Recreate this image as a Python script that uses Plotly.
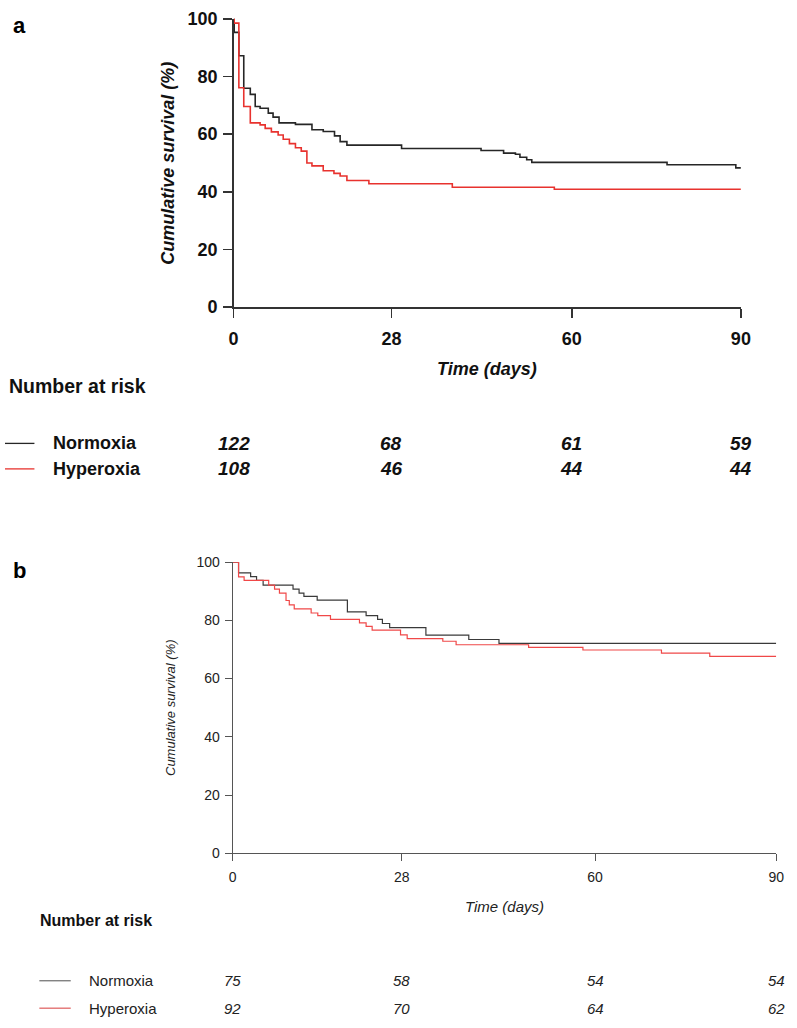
import plotly.graph_objects as go

W, H = 797, 1028

# ---------------- Data ----------------
tick_days = [0, 28, 60, 90]
y_ticks = [0, 20, 40, 60, 80, 100]

# Panel a
a_norm_t = [0, 0.1, 0.93, 1.8, 2.96, 3.83, 4.7, 6.15, 7.0, 8.06, 10.97, 13.9, 15.9, 17.9,
            18.9, 20.1, 29.8, 43.9, 47.9, 50.0, 50.8, 52.0, 52.9, 76.9, 89.1, 90]
a_norm_s = [100, 95.3, 87.2, 75.9, 73.8, 69.6, 69.0, 67.3, 65.9, 63.9, 63.4, 61.5, 60.9, 59.4,
            57.4, 56.2, 55.0, 54.3, 53.4, 53.0, 52.0, 51.1, 50.2, 49.4, 48.3, 48.3]
a_hyp_t = [0, 0.1, 0.93, 1.8, 2.96, 4.7, 5.6, 6.7, 7.9, 8.8, 9.9, 10.97, 12.0, 13.0, 13.9,
           15.9, 17.8, 18.9, 20.1, 24.0, 38.8, 56.9, 90]
a_hyp_s = [100, 98.5, 76.1, 69.6, 63.9, 63.2, 62.0, 60.8, 59.7, 58.2, 56.7, 55.3, 54.1, 50.0, 49.0,
           47.3, 46.4, 45.5, 43.9, 42.8, 41.6, 40.9, 40.9]
a_risk_norm = [122, 68, 61, 59]
a_risk_hyp = [108, 46, 44, 44]

# Panel b
b_norm_t = [0, 0.98, 2.98, 3.96, 5.05, 10.0, 11.0, 11.8, 14.0, 19.0, 22.1, 24.0, 24.8, 26.0,
            32.0, 39.1, 44.1, 90]
b_norm_s = [100, 96.3, 95.0, 93.7, 92.1, 90.7, 89.3, 88.2, 86.9, 82.9, 81.6, 80.3, 78.9, 77.5,
            74.9, 73.4, 72.1, 72.1]
b_hyp_t = [0, 0.98, 1.9, 5.97, 6.94, 7.75, 8.84, 9.38, 10.2, 13.0, 14.1, 16.2, 21.0, 22.1, 23.1,
           27.8, 28.9, 34.8, 37.0, 49.0, 58.0, 71.0, 79.0, 90]
b_hyp_s = [100, 94.9, 93.7, 92.1, 90.7, 89.3, 86.8, 85.3, 83.9, 82.5, 81.6, 80.3, 79.1, 77.9, 76.6,
           75.0, 73.7, 72.8, 71.6, 70.7, 69.8, 68.7, 67.6, 67.6]
b_risk_norm = [75, 58, 54, 54]
b_risk_hyp = [92, 70, 64, 62]

groups = ["Normoxia", "Hyperoxia"]

# ---------------- Styling ----------------
SANS = "Liberation Sans, Arial, Helvetica, sans-serif"
A_BLACK, A_RED = "#262626", "#e8322e"
B_BLACK, B_RED = "#3a3a3a", "#f04848"


def px(x):
    return x / W


def py(y):
    return 1 - y / H


fig = go.Figure()

fig.add_trace(go.Scatter(x=a_norm_t, y=a_norm_s, mode="lines", line=dict(shape="hv", color=A_BLACK, width=1.6),
                         xaxis="x", yaxis="y", showlegend=False, cliponaxis=False))
fig.add_trace(go.Scatter(x=a_hyp_t, y=a_hyp_s, mode="lines", line=dict(shape="hv", color=A_RED, width=1.6),
                         xaxis="x", yaxis="y", showlegend=False, cliponaxis=False))
fig.add_trace(go.Scatter(x=b_norm_t, y=b_norm_s, mode="lines", line=dict(shape="hv", color=B_BLACK, width=1.2),
                         xaxis="x2", yaxis="y2", showlegend=False, cliponaxis=False))
fig.add_trace(go.Scatter(x=b_hyp_t, y=b_hyp_s, mode="lines", line=dict(shape="hv", color=B_RED, width=1.2),
                         xaxis="x2", yaxis="y2", showlegend=False, cliponaxis=False))

a_tick_font = dict(family=SANS, size=18, color="#111", weight="bold")
b_font = dict(family=SANS, size=14, color="#222")

common = dict(showgrid=False, zeroline=False, showline=True, ticks="outside", mirror=False)

fig.update_layout(
    width=W, height=H, margin=dict(l=0, r=0, t=0, b=0),
    paper_bgcolor="white", plot_bgcolor="white",
    xaxis=dict(domain=[px(233), px(750)], range=[0, 90], tickvals=tick_days,
               tickfont=a_tick_font, linecolor="#333", linewidth=1.5,
               tickcolor="#333", ticklen=9, tickwidth=1.5, anchor="y", ticklabelstandoff=6, **common),
    yaxis=dict(domain=[py(303), py(9)], range=[0, 100], tickvals=y_ticks,
               tickfont=a_tick_font, linecolor="#333", linewidth=1.5,
               tickcolor="#333", ticklen=9, tickwidth=1.5, anchor="x", ticklabelstandoff=2, **common),
    xaxis2=dict(domain=[px(232), px(786)], range=[0, 90], tickvals=tick_days,
                tickfont=b_font, linecolor="#555", linewidth=1, tickcolor="#555", ticklen=7,
                anchor="y2", ticklabelstandoff=4, **common),
    yaxis2=dict(domain=[py(860), py(563)], range=[0, 100], tickvals=y_ticks,
                tickfont=b_font, linecolor="#555", linewidth=1, tickcolor="#555", ticklen=7,
                anchor="x2", ticklabelstandoff=2, **common),
)

ann = []
# Panel labels
ann.append(dict(text="<b>a</b>", x=px(6), y=py(16), xref="paper", yref="paper", xanchor="left", yanchor="middle",
                showarrow=False, font=dict(family=SANS, size=22, color="#000")))
ann.append(dict(text="<b>b</b>", x=px(6), y=py(572), xref="paper", yref="paper", xanchor="left", yanchor="middle",
                showarrow=False, font=dict(family=SANS, size=22, color="#000")))

# Axis titles panel a
ann.append(dict(text="<b><i>Cumulative survival (%)</i></b>", x=px(166), y=py(156), xref="paper", yref="paper",
                textangle=-90, showarrow=False, xanchor="center", yanchor="middle",
                font=dict(family=SANS, size=18, color="#111")))
ann.append(dict(text="<b><i>Time (days)</i></b>", x=px(491), y=py(366), xref="paper", yref="paper",
                showarrow=False, xanchor="center", yanchor="middle",
                font=dict(family=SANS, size=18, color="#111")))
ann.append(dict(text="<b>Number at risk</b>", x=px(2), y=py(383), xref="paper", yref="paper",
                showarrow=False, xanchor="left", yanchor="middle",
                font=dict(family=SANS, size=19.5, color="#111")))

# Axis titles panel b
ann.append(dict(text="<i>Cumulative survival (%)</i>", x=px(168), y=py(711), xref="paper", yref="paper",
                textangle=-90, showarrow=False, xanchor="center", yanchor="middle",
                font=dict(family=SANS, size=13, color="#222")))
ann.append(dict(text="<i>Time (days)</i>", x=px(509), y=py(914), xref="paper", yref="paper",
                showarrow=False, xanchor="center", yanchor="middle",
                font=dict(family=SANS, size=15, color="#222")))
ann.append(dict(text="<b>Number at risk</b>", x=px(34), y=py(929), xref="paper", yref="paper",
                showarrow=False, xanchor="left", yanchor="middle",
                font=dict(family=SANS, size=16, color="#111")))

shapes = []
# Risk table panel a
for name, risks, col, yrow in [(groups[0], a_risk_norm, A_BLACK, 442),
                               (groups[1], a_risk_hyp, A_RED, 468)]:
    shapes.append(dict(type="line", xref="paper", yref="paper", x0=px(0), x1=px(30), y0=py(yrow), y1=py(yrow),
                       line=dict(color=col, width=1.3)))
    ann.append(dict(text=f"<b>{name}</b>", x=px(47), y=py(yrow), xref="paper", yref="paper", showarrow=False,
                    xanchor="left", yanchor="middle", font=dict(family=SANS, size=18, color="#111")))
    for d, r in zip(tick_days, risks):
        ann.append(dict(text=f"<b><i>{r}</i></b>", x=d, y=py(yrow), xref="x", yref="paper", showarrow=False,
                        xanchor="center", yanchor="middle", font=dict(family=SANS, size=19, color="#111")))

# Risk table panel b
for name, risks, col, yrow in [(groups[0], b_risk_norm, "#777777", 990),
                               (groups[1], b_risk_hyp, "#e06868", 1018)]:
    shapes.append(dict(type="line", xref="paper", yref="paper", x0=px(35), x1=px(67), y0=py(yrow), y1=py(yrow),
                       line=dict(color=col, width=1.3)))
    ann.append(dict(text=name, x=px(84), y=py(yrow), xref="paper", yref="paper", showarrow=False,
                    xanchor="left", yanchor="middle", font=dict(family=SANS, size=15, color="#222")))
    for d, r in zip(tick_days, risks):
        ann.append(dict(text=f"<i>{r}</i>", x=d, y=py(yrow), xref="x2", yref="paper", showarrow=False,
                        xanchor="center", yanchor="middle", font=dict(family=SANS, size=15, color="#222")))

fig.update_layout(annotations=ann, shapes=shapes)
fig.write_html("out.html",
               config={"displayModeBar": False, "staticPlot": True},
               post_script="document.body.style.margin='0';document.body.style.padding='0';"
                           "document.body.style.overflow='hidden';")
